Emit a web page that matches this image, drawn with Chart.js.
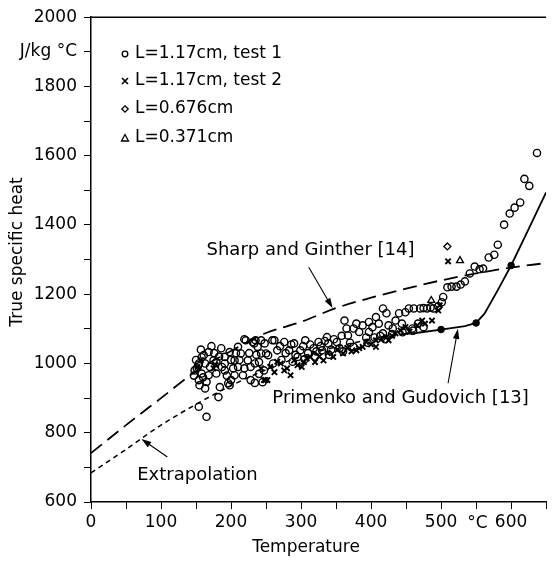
<!DOCTYPE html>
<html><head><meta charset="utf-8">
<script src="https://cdn.jsdelivr.net/npm/chart.js@4"></script>
<style>html,body{margin:0;padding:0;background:#fff}#wrap{width:552px;height:561px;position:relative}</style>
</head><body><div id="wrap"><canvas id="c" width="552" height="561"></canvas></div>
<script>
const FONT = '"DejaVu Sans", sans-serif';

// Reference curves (temperature °C, specific heat J/kg°C)
const sharpGintherTemp = [0,50,100,150,200,250,300,350,400,450,500,550,600,650];
const sharpGintherHeat = [741,822,900,978,1036,1088,1120,1160,1190,1216,1240,1260,1277,1290];
const extrapTemp = [0,50,100,150,200,250,300,350,400,440];
const extrapHeat = [684,752,822,882,936,982,1020,1048,1070,1084];
const primenkoTemp = [440,464,500,534,550,562,581,600,625,650];
const primenkoHeat = [1084,1088,1098,1108,1117,1144,1212,1283,1388,1494];
const primenkoDotTemp = [500,550,600];
const primenkoDotHeat = [1098,1117,1283];

// Measurements [temperature, heat]
const test1 = [
[147,965],[148,980],[150,1010],[151,986],[153,995],[154,1000],[155,937],[154,952],[154,875],[157,1040],
[158,1018],[158,971],[160,960],[161,1024],[163,1000],[163,928],[165,947],[165,846],[168,1033],[168,966],
[170,990],[172,1050],[175,1009],[176,1030],[179,1004],[179,971],[182,903],[183,1020],[184,932],[186,1044],
[187,990],[191,1019],[191,1000],[191,980],[194,965],[196,943],[198,1033],[198,937],[200,952],[200,1010],
[203,986],[205,1009],[205,966],[207,1030],[210,1048],[210,990],[212,1010],[214,1029],[217,966],[219,986],
[219,1070],[221,1067],[224,1009],[226,1030],[228,952],[228,990],[231,1062],[233,1058],[234,1000],[234,944],
[235,1067],[236,1025],[238,1048],[240,1004],[240,970],[243,1029],[243,1067],[245,946],[247,980],[248,1058],
[250,1029],[253,1024],[259,1067],[260,1000],[262,1067],[266,1038],[270,1050],[272,1010],[276,1062],[278,1030],
[283,1038],[286,1055],[288,1005],[290,1058],[292,1025],[295,1019],[299,1038],[303,1050],[305,1012],[306,1067],
[310,1030],[313,1055],[318,1044],[320,1020],[322,1035],[325,1062],[328,1050],[330,1038],[334,1065],[337,1076],
[339,1058],[340,1025],[343,1040],[347,1070],[351,1062],[355,1044],[358,1080],[360,1035],[362,1124],[365,1101],
[367,1081],[370,1060],[375,1101],[375,1048],[379,1115],[383,1091],[388,1110],[393,1075],[395,1060],[397,1120],
[397,1091],[402,1105],[405,1075],[407,1134],[411,1115],[413,1080],[417,1159],[417,1087],[420,1070],[422,1145],
[425,1110],[430,1085],[431,1101],[435,1124],[440,1145],[444,1115],[445,1090],[449,1148],[449,1096],[454,1159],
[459,1101],[460,1095],[461,1159],[467,1115],[470,1159],[475,1160],[475,1105],[480,1159],[485,1162],[489,1159],
[496,1165],[501,1177],[503,1192],[509,1220],[515,1222],[522,1222],[528,1228],[534,1237],[541,1260],[548,1280],
[555,1272],[560,1274],[568,1306],[576,1314],[581,1343],[590,1401],[598,1433],[605,1450],[613,1465],[619,1533],
[626,1513],[637,1608]
];
const test2 = [
[152,990],[157,1010],[175,986],[178,995],[243,986],[247,952],[249,952],[252,952],[256,990],[262,975],
[266,1005],[271,1000],[276,980],[280,986],[285,966],[290,1009],[295,995],[301,990],[304,1004],[308,1015],
[313,1019],[320,1004],[326,1020],[332,1009],[338,1030],[346,1019],[352,1040],[360,1029],[366,1045],[372,1035],
[379,1038],[383,1044],[388,1048],[393,1062],[400,1055],[407,1048],[407,1067],[415,1070],[422,1076],[425,1067],
[430,1080],[435,1087],[442,1095],[449,1105],[455,1092],[466,1110],[473,1124],[477,1115],[487,1124],[496,1153],
[498,1168],[510,1295]
];
const sample676 = [[509,1338]];
const sample371 = [[486,1182],[527,1297]];

const legendLabels = ['L=1.17cm, test 1','L=1.17cm, test 2','L=0.676cm','L=0.371cm'];
const xTickValues = [0,100,200,300,400,500,600];
const xTickTexts = ['0','100','200','300','400','500','600'];
const xUnitLabel = '°C';
const yTickValues = [600,800,1000,1200,1400,1600,1800,1900,2000];
const yTickTexts = ['600','800','1000','1200','1400','1600','1800','J/kg °C','2000'];

const toXY = (ts, vs) => ts.map((t,i)=>({x:t,y:vs[i]}));
const pairs = a => a.map(p=>({x:p[0],y:p[1]}));

const hollow = 'rgba(255,255,255,0)';

const overlay = {
  id:'overlay',
  afterDatasetsDraw(chart){
    const ctx = chart.ctx, a = chart.chartArea, xs = chart.scales.x, ys = chart.scales.y;
    const px = t => xs.getPixelForValue(t), py = v => ys.getPixelForValue(v);
    ctx.save();
    // top frame line
    ctx.strokeStyle='#000'; ctx.lineWidth=1.5;
    ctx.beginPath(); ctx.moveTo(a.left, a.top); ctx.lineTo(a.right, a.top); ctx.stroke();
    // legend
    const lx = 125, tx = 135, rows=[54,81,109,138];
    ctx.fillStyle='#000'; ctx.font='17px '+FONT; ctx.textBaseline='middle'; ctx.textAlign='left';
    rows.forEach((ry,i)=>{
      ctx.lineWidth=1.3; ctx.beginPath();
      if(i===0){ ctx.arc(lx,ry,2.8,0,Math.PI*2); ctx.stroke(); }
      if(i===1){ ctx.lineWidth=1.7; ctx.moveTo(lx-3,ry-3); ctx.lineTo(lx+3,ry+3); ctx.moveTo(lx+3,ry-3); ctx.lineTo(lx-3,ry+3); ctx.stroke(); }
      if(i===2){ ctx.moveTo(lx,ry-3.2); ctx.lineTo(lx+3.2,ry); ctx.lineTo(lx,ry+3.2); ctx.lineTo(lx-3.2,ry); ctx.closePath(); ctx.stroke(); }
      if(i===3){ ctx.moveTo(lx,ry-3.5); ctx.lineTo(lx+3.5,ry+3); ctx.lineTo(lx-3.5,ry+3); ctx.closePath(); ctx.stroke(); }
      ctx.fillText(legendLabels[i], tx, ry);
    });
    // annotations
    ctx.font='18px '+FONT;
    ctx.fillText('Sharp and Ginther [14]', px(165), py(1326));
    ctx.fillText('Primenko and Gudovich [13]', px(259), py(900));
    ctx.fillText('Extrapolation', px(66), py(678));
    const arrow=(t1,v1,t2,v2)=>{
      const x1=px(t1),y1=py(v1),x2=px(t2),y2=py(v2);
      const ang=Math.atan2(y2-y1,x2-x1), L=10, W=3.2;
      ctx.lineWidth=1.1; ctx.beginPath(); ctx.moveTo(x1,y1); ctx.lineTo(x2-Math.cos(ang)*L*0.8,y2-Math.sin(ang)*L*0.8); ctx.stroke();
      ctx.beginPath(); ctx.moveTo(x2,y2);
      ctx.lineTo(x2-Math.cos(ang)*L+Math.sin(ang)*W, y2-Math.sin(ang)*L-Math.cos(ang)*W);
      ctx.lineTo(x2-Math.cos(ang)*L-Math.sin(ang)*W, y2-Math.sin(ang)*L+Math.cos(ang)*W);
      ctx.closePath(); ctx.fill();
    };
    arrow(311,1278,345,1160);
    arrow(510,943,524,1100);
    arrow(109,730,72,782);
    // unit on x axis, between 500 and 600
    ctx.font='17px '+FONT; ctx.textAlign='center'; ctx.textBaseline='alphabetic';
    ctx.fillText(xUnitLabel, px(552), a.bottom+26);
    // axis titles
    ctx.textBaseline='middle';
    ctx.fillText('Temperature', 306, 548);
    ctx.translate(18,252); ctx.rotate(-Math.PI/2); ctx.fillText('True specific heat',0,0);
    ctx.restore();
  }
};

new Chart(document.getElementById('c'), {
  type:'scatter',
  data:{datasets:[
    {label:'test1', data:pairs(test1), pointStyle:'circle', pointRadius:3.6, borderColor:'#000', backgroundColor:hollow, borderWidth:1.4},
    {label:'test2', data:pairs(test2), pointStyle:'crossRot', pointRadius:3.8, borderColor:'#000', borderWidth:1.9},
    {label:'0.676', data:pairs(sample676), pointStyle:'rectRot', pointRadius:3.5, borderColor:'#000', backgroundColor:hollow, borderWidth:1.3},
    {label:'0.371', data:pairs(sample371), pointStyle:'triangle', pointRadius:4, borderColor:'#000', backgroundColor:hollow, borderWidth:1.3},
    {label:'dots', data:toXY(primenkoDotTemp,primenkoDotHeat), pointRadius:3.3, backgroundColor:'#000', borderColor:'#000'},
    {type:'line', label:'Sharp', data:toXY(sharpGintherTemp,sharpGintherHeat), borderColor:'#000', borderWidth:1.8, borderDash:[14,7], pointRadius:0, cubicInterpolationMode:'monotone', fill:false},
    {type:'line', label:'Extrap', data:toXY(extrapTemp,extrapHeat), borderColor:'#000', borderWidth:1.5, borderDash:[5,4], pointRadius:0, cubicInterpolationMode:'monotone', fill:false},
    {type:'line', label:'Primenko', data:toXY(primenkoTemp,primenkoHeat), borderColor:'#000', borderWidth:1.8, pointRadius:0, tension:0, fill:false}
  ]},
  options:{
    responsive:false, animation:false, devicePixelRatio:1,
    layout:{padding:{top:16,right:0,left:0,bottom:0}},
    plugins:{legend:{display:false}, tooltip:{enabled:false}},
    scales:{
      x:{type:'linear', min:0, max:650,
        afterFit:s=>{s.height=59;},
        afterBuildTicks:s=>{s.ticks=[];for(let v=0;v<=650;v+=50)s.ticks.push({value:v});},
        ticks:{autoSkip:false, maxRotation:0, color:'#000', font:{size:17,family:FONT}, padding:3,
          callback:v=>{const i=xTickValues.indexOf(v);return i<0?'':xTickTexts[i];}},
        grid:{drawOnChartArea:false, drawTicks:true, tickLength:7, color:'#000', lineWidth:1},
        border:{color:'#000', width:1.5}},
      y:{type:'linear', min:600, max:2000,
        afterFit:s=>{s.width=91;},
        afterBuildTicks:s=>{s.ticks=[];for(let v=600;v<=2000;v+=100)s.ticks.push({value:v});},
        ticks:{autoSkip:false, color:'#000', font:{size:17,family:FONT}, padding:7,
          callback:v=>{const i=yTickValues.indexOf(v);return i<0?'':yTickTexts[i];}},
        grid:{drawOnChartArea:false, drawTicks:true, tickLength:7, color:'#000', lineWidth:1},
        border:{color:'#000', width:1.5}}
    }
  },
  plugins:[overlay]
});
</script></body></html>
